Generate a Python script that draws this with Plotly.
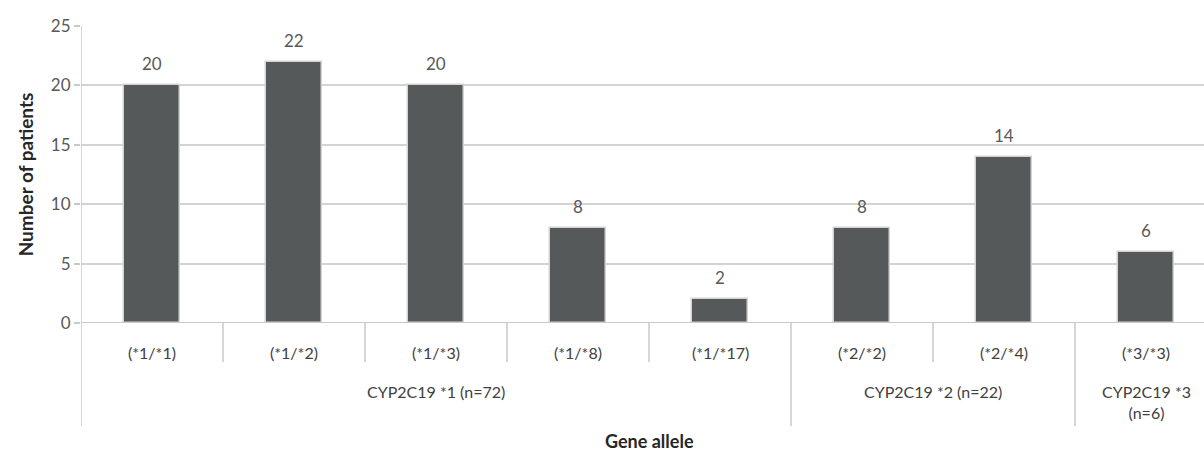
import plotly.graph_objects as go

genotypes = ["(*1/*1)", "(*1/*2)", "(*1/*3)", "(*1/*8)", "(*1/*17)", "(*2/*2)", "(*2/*4)", "(*3/*3)"]
patients = [20, 22, 20, 8, 2, 8, 14, 6]
group_labels = ["CYP2C19 *1 (n=72)", "CYP2C19 *2 (n=22)", "CYP2C19 *3<br>(n=6)"]
group_sizes = [5, 2, 1]
y_ticks = [0, 5, 10, 15, 20, 25]

FONT = "Lato, 'Open Sans', Arial, sans-serif"
GRAY_TXT = "#595959"
LINE = "#c8c8c8"

xpos = [i + 0.5 for i in range(len(genotypes))]

fig = go.Figure()
fig.add_trace(go.Bar(
    x=xpos, y=patients, width=0.39,
    marker=dict(color="#555959", line=dict(color="#d4d4d4", width=1.5)),
    hoverinfo="skip",
))

ann = []
for x, v in zip(xpos, patients):
    ann.append(dict(x=x, y=v, xref="x", yref="y", text=str(v), showarrow=False,
                    yanchor="bottom", yshift=9, font=dict(size=17, color=GRAY_TXT, family=FONT)))
for x, g in zip(xpos, genotypes):
    ann.append(dict(x=x, y=-0.098, xref="x", yref="paper", text=g, showarrow=False,
                    yanchor="middle", font=dict(size=16, color="#404040", family=FONT)))

shapes = []
shapes.append(dict(type="line", xref="paper", yref="y", x0=0, x1=1, y0=0, y1=0,
                   line=dict(color=LINE, width=2)))
shapes.append(dict(type="line", xref="x", yref="paper", x0=0, x1=0, y0=1, y1=-0.347,
                   line=dict(color=LINE, width=1.5)))
start = 0
group_edges = set()
for s in group_sizes:
    start += s
    group_edges.add(start)
for k in range(1, len(genotypes) + 1):
    low = -0.347 if k in group_edges else -0.131
    shapes.append(dict(type="line", xref="x", yref="paper", x0=k, x1=k, y0=0, y1=low,
                       line=dict(color=LINE, width=1.5)))
start = 0
for lab, s in zip(group_labels, group_sizes):
    c = start + s / 2
    ann.append(dict(x=c, y=-0.192, xref="x", yref="paper", text=lab, showarrow=False,
                    yanchor="top", align="center",
                    font=dict(size=16, color="#404040", family=FONT)))
    start += s

ann.append(dict(x=4.0, y=-0.355, xref="x", yref="paper", text="<b>Gene allele</b>", showarrow=False,
                yanchor="top", font=dict(size=18, color="#262626", family=FONT)))

fig.update_layout(
    width=1204, height=454,
    margin=dict(l=81, r=0, t=26, b=131),
    plot_bgcolor="white", paper_bgcolor="white",
    showlegend=False,
    bargap=0,
    xaxis=dict(range=[0, 1123 / 142], showticklabels=False, showgrid=False, zeroline=False,
               showline=False, ticks=""),
    yaxis=dict(range=[0, 25], tickvals=y_ticks, showgrid=True, gridcolor="#d3d3d3", gridwidth=2,
               zeroline=False, showline=False, ticks="outside", ticklen=6, tickcolor=LINE,
               tickwidth=2, tickfont=dict(size=17, color=GRAY_TXT, family=FONT),
               title=dict(text="<b>Number of patients</b>", standoff=12,
                          font=dict(size=19, color="#262626", family=FONT))),
    annotations=ann,
    shapes=shapes,
)

fig.write_html("out.html", config={"displayModeBar": False},
               post_script="document.body.style.margin='0';document.body.style.padding='0';")
